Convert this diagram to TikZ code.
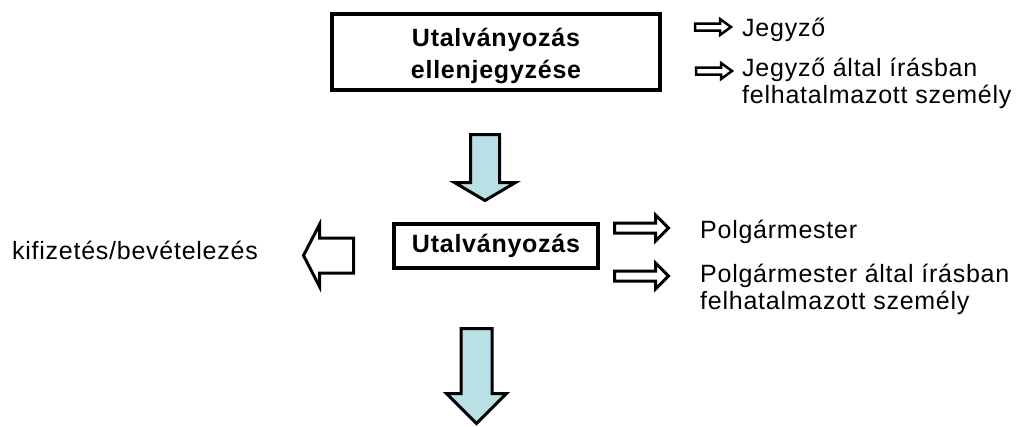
\documentclass[tikz,border=0pt]{standalone}
\usepackage{fontspec}
\setmainfont{Liberation Sans}[LetterSpace=3]
\usetikzlibrary{positioning}

\definecolor{arrowfill}{RGB}{185,224,228}

\tikzset{
	stepbox/.style={draw,line width=3.5pt,inner sep=0pt,align=center,font=\bfseries\fontsize{25}{32}\selectfont},
	txt/.style={inner sep=0pt,align=left,font=\fontsize{25}{26.5}\selectfont},
	flowarrow/.style={draw,line width=3pt,fill=arrowfill},
	outarrow/.style={draw,line width=3pt,fill=white},
	% length / head width / shaft width / head length
	pics/blockarrow/.style args={#1/#2/#3/#4}{
		code={\draw[pic actions] (-#1/2,-#3/2) -- (#1/2-#4,-#3/2) -- (#1/2-#4,-#2/2) -- (#1/2,0)
			-- (#1/2-#4,#2/2) -- (#1/2-#4,#3/2) -- (-#1/2,#3/2) -- cycle;}
	}
}

\begin{document}
\begin{tikzpicture}[x=1pt,y=-1pt]
			\useasboundingbox (0,0) rectangle (1023,426);
			%boxes
			\node[stepbox,minimum width=328pt,minimum height=76pt] (ellen) at (496,52) {\rule{0pt}{26pt}Utalványozás\\ellenjegyzése};
			\node[stepbox,minimum width=204pt,minimum height=44pt] (utal) at (496,246) {Utalványozás};
			%flow arrows
			\pic[flowarrow,rotate=-90] (down1) at (485,167.5) {blockarrow={66/61/29/18}};
			\pic[flowarrow,rotate=-90] (down2) at (476.5,376) {blockarrow={95/60/31/30}};
			\pic[outarrow,rotate=180] (left) at (328.5,255.5) {blockarrow={50/62/35/16}};
			%right arrows
			\pic[outarrow] (r1) at (641.5,228) {blockarrow={54/26/10/13}};
			\pic[outarrow] (r2) at (641.5,276) {blockarrow={54/26/10/13}};
			\pic[outarrow,line width=2.5pt] (t1) at (713,27) {blockarrow={36/16/7/11}};
			\pic[outarrow,line width=2.5pt] (t2) at (714,71) {blockarrow={36/16/7/11}};
			%texts
			\node[txt,anchor=west] (jegyzo) at (742,30) {Jegyző};
			\node[txt,anchor=west] (jegyzoir) at (742,83.5) {Jegyző által írásban\\felhatalmazott személy};
			\node[txt,anchor=east] (kifiz) at (258,250) {kifizetés/bevételezés};
			\node[txt,anchor=west] (polg) at (700,232) {Polgármester};
			\node[txt,anchor=west] (polgir) at (700,289.5) {Polgármester által írásban\\felhatalmazott személy};
		\end{tikzpicture}
\end{document}
